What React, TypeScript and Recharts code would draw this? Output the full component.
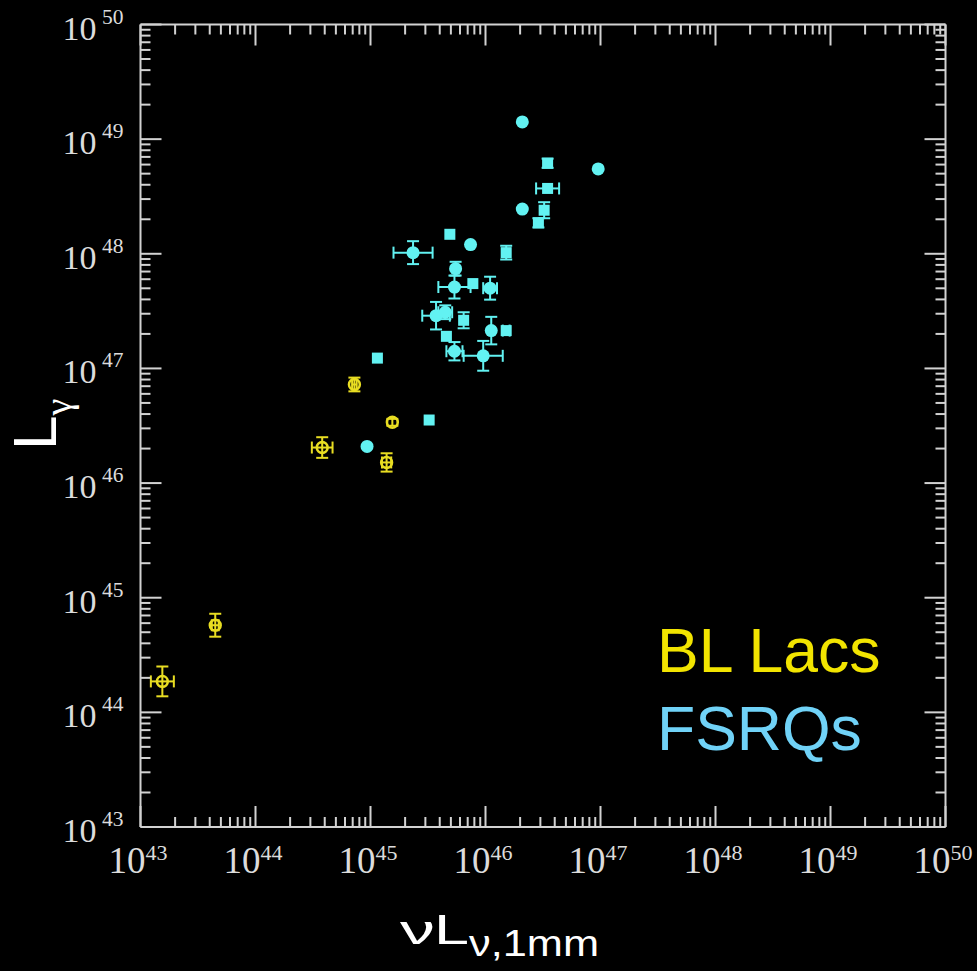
import { ScatterChart, Scatter, XAxis, YAxis, ErrorBar } from "recharts";

const decades = [43, 44, 45, 46, 47, 48, 49, 50];
const minorSteps = [2, 3, 4, 5, 6, 7, 8, 9];

// FSRQs: log10 of nuL_nu at 1mm and of L_gamma, errors in dex, marker c = circle / s = square
const fsrqLogNuL = [46.32, 46.54, 46.98, 46.54, 46.32, 46.51, 46.46, 45.69, 45.37, 45.87, 46.18, 45.74, 45.73, 45.89, 46.04, 45.57, 45.65, 45.81, 46.05, 46.18, 45.66, 45.73, 45.98, 45.06, 45.51, 44.97];
const fsrqLogLg = [49.15, 48.79, 48.74, 48.57, 48.39, 48.38, 48.27, 48.17, 48.01, 48.08, 48.01, 47.87, 47.71, 47.74, 47.7, 47.46, 47.49, 47.42, 47.33, 47.33, 47.28, 47.15, 47.11, 47.09, 46.55, 46.32];
const fsrqXErr = [0, 0, 0, 0.1, 0, 0, 0, 0, 0.17, 0, 0, 0, 0.14, 0, 0.06, 0.12, 0.06, 0, 0, 0.03, 0, 0.07, 0.17, 0, 0, 0];
const fsrqYErr = [0, 0.04, 0, 0, 0, 0.07, 0.04, 0, 0.1, 0, 0.06, 0.06, 0.1, 0, 0.1, 0.12, 0.06, 0.07, 0.12, 0, 0, 0.08, 0.13, 0, 0, 0];
const fsrqMarker = ["c", "s", "c", "s", "c", "s", "s", "s", "c", "c", "s", "c", "c", "s", "c", "c", "c", "s", "c", "s", "s", "c", "c", "s", "s", "c"];

// BL Lacs
const blLogNuL = [44.86, 45.19, 45.14, 44.58, 43.65, 43.19];
const blLogLg = [46.86, 46.53, 46.18, 46.31, 44.76, 44.27];
const blXErr = [0.02, 0, 0.04, 0.09, 0.03, 0.1];
const blYErr = [0.06, 0.03, 0.08, 0.09, 0.1, 0.13];

const legendLabels = ["BL Lacs", "FSRQs"];

const CYAN = "#62f2f2";
const YELLOW = "#e8dd22";
const AXIS = "#d2d2d2";

const fsrqData = fsrqLogNuL.map((x, i) => ({ x, y: fsrqLogLg[i], ex: fsrqXErr[i], ey: fsrqYErr[i], sym: fsrqMarker[i] }));
const blData = blLogNuL.map((x, i) => ({ x, y: blLogLg[i], ex: blXErr[i], ey: blYErr[i] }));

const logTicks = decades.flatMap((d) => (d === 50 ? [d] : [d, ...minorSteps.map((k) => d + Math.log10(k))]));
const isMajor = (v: number) => Math.abs(v - Math.round(v)) < 1e-6;

const MAJOR = 21;
const MINOR = 10;
const serif = "'Liberation Serif', 'Times New Roman', serif";

const BottomTick = ({ x, y, payload }: any) => {
  const major = isMajor(payload.value);
  return (
    <g>
      <line x1={x} x2={x} y1={y} y2={y - (major ? MAJOR : MINOR)} stroke={AXIS} strokeWidth={2} />
      {major && (
        <>
          <text x={x + 5} y={y + 45.5} textAnchor="end" fontSize={37} fill="#dcdcdc" fontFamily={serif}>10</text>
          <text x={x + 5} y={y + 33} textAnchor="start" fontSize={22} fill="#dcdcdc" fontFamily={serif}>{Math.round(payload.value)}</text>
        </>
      )}
    </g>
  );
};

const TopTick = ({ x, y, payload }: any) => {
  const major = isMajor(payload.value);
  return <line x1={x} x2={x} y1={y} y2={y + (major ? MAJOR : MINOR)} stroke={AXIS} strokeWidth={2} />;
};

const LeftTick = ({ x, y, payload }: any) => {
  const major = isMajor(payload.value);
  return (
    <g>
      <line x1={x} x2={x + (major ? MAJOR : MINOR)} y1={y} y2={y} stroke={AXIS} strokeWidth={2} />
      {major && (
        <>
          <text x={x - 44} y={y + 15} textAnchor="end" fontSize={34} fill="#dcdcdc" fontFamily={serif}>10</text>
          <text x={x - 17} y={y - 1} textAnchor="end" fontSize={21.5} fill="#dcdcdc" fontFamily={serif}>{Math.round(payload.value)}</text>
        </>
      )}
    </g>
  );
};

const RightTick = ({ x, y, payload }: any) => {
  const major = isMajor(payload.value);
  return <line x1={x} x2={x - (major ? MAJOR : MINOR)} y1={y} y2={y} stroke={AXIS} strokeWidth={2} />;
};

const FsrqShape = (props: any) => {
  const { cx, cy, payload } = props;
  if (payload.sym === "s") return <rect x={cx - 5.5} y={cy - 5.5} width={11} height={11} fill={CYAN} />;
  return <circle cx={cx} cy={cy} r={6.5} fill={CYAN} />;
};

const BlShape = ({ cx, cy }: any) => (
  <circle cx={cx} cy={cy} r={5.4} fill="none" stroke={YELLOW} strokeWidth={2.6} />
);

const axisLine = { stroke: AXIS, strokeWidth: 2 };

export default function App() {
  return (
    <div style={{ position: "absolute", left: 0, top: 0, width: 977, height: 971, background: "#000" }}>
      <ScatterChart width={977} height={971} margin={{ top: 23.5, right: 30.5, bottom: 143, left: 139.5 }}>
        <XAxis xAxisId="b" type="number" dataKey="x" domain={[43, 50]} ticks={logTicks} interval={0} allowDataOverflow
          height={1} tickSize={0} tickMargin={0} tickLine={false} axisLine={axisLine} tick={<BottomTick />} />
        <XAxis xAxisId="t" orientation="top" type="number" dataKey="x" domain={[43, 50]} ticks={logTicks} interval={0} allowDataOverflow
          height={1} tickSize={0} tickMargin={0} tickLine={false} axisLine={axisLine} tick={<TopTick />} />
        <YAxis yAxisId="l" type="number" dataKey="y" domain={[43, 50]} ticks={logTicks} interval={0} allowDataOverflow
          width={1} tickSize={0} tickMargin={0} tickLine={false} axisLine={axisLine} tick={<LeftTick />} />
        <YAxis yAxisId="r" orientation="right" type="number" dataKey="y" domain={[43, 50]} ticks={logTicks} interval={0} allowDataOverflow
          width={1} tickSize={0} tickMargin={0} tickLine={false} axisLine={axisLine} tick={<RightTick />} />
        <Scatter xAxisId="t" yAxisId="r" data={fsrqData} isAnimationActive={false} shape={() => <g />} />
        <Scatter xAxisId="b" yAxisId="l" data={fsrqData} isAnimationActive={false} shape={<FsrqShape />}>
          <ErrorBar dataKey="ex" direction="x" width={6} stroke={CYAN} strokeWidth={2} isAnimationActive={false} />
          <ErrorBar dataKey="ey" direction="y" width={6} stroke={CYAN} strokeWidth={2} isAnimationActive={false} />
        </Scatter>
        <Scatter xAxisId="b" yAxisId="l" data={blData} isAnimationActive={false} shape={<BlShape />}>
          <ErrorBar dataKey="ex" direction="x" width={6} stroke={YELLOW} strokeWidth={2} isAnimationActive={false} />
          <ErrorBar dataKey="ey" direction="y" width={6} stroke={YELLOW} strokeWidth={2} isAnimationActive={false} />
        </Scatter>
      </ScatterChart>
      <svg width={977} height={971} style={{ position: "absolute", left: 0, top: 0, pointerEvents: "none" }}>
        <text transform="rotate(-90 56 450)" x={56} y={450} fill="#fff" fontFamily="'Liberation Sans', Arial, sans-serif">
          <tspan fontSize={62}>L</tspan>
          <tspan fontSize={38} dy={15} fontFamily={serif}>γ</tspan>
        </text>
        <g fill="#fff" fontFamily="'Liberation Sans', Arial, sans-serif">
          <text x={400} y={944} fontSize={41} textLength={35} lengthAdjust="spacingAndGlyphs">ν</text>
          <text x={434} y={944} fontSize={42} textLength={35} lengthAdjust="spacingAndGlyphs">L</text>
          <text x={469} y={956} fontSize={36} textLength={130} lengthAdjust="spacingAndGlyphs">ν,1mm</text>
        </g>
        <g fontFamily="'Liberation Sans', Arial, sans-serif" fontSize={62.5}>
          <text x={657} y={671.5} fill="#f2e400">{legendLabels[0]}</text>
          <text x={657} y={749.5} fill="#70d2f7">{legendLabels[1]}</text>
        </g>
      </svg>
    </div>
  );
}
